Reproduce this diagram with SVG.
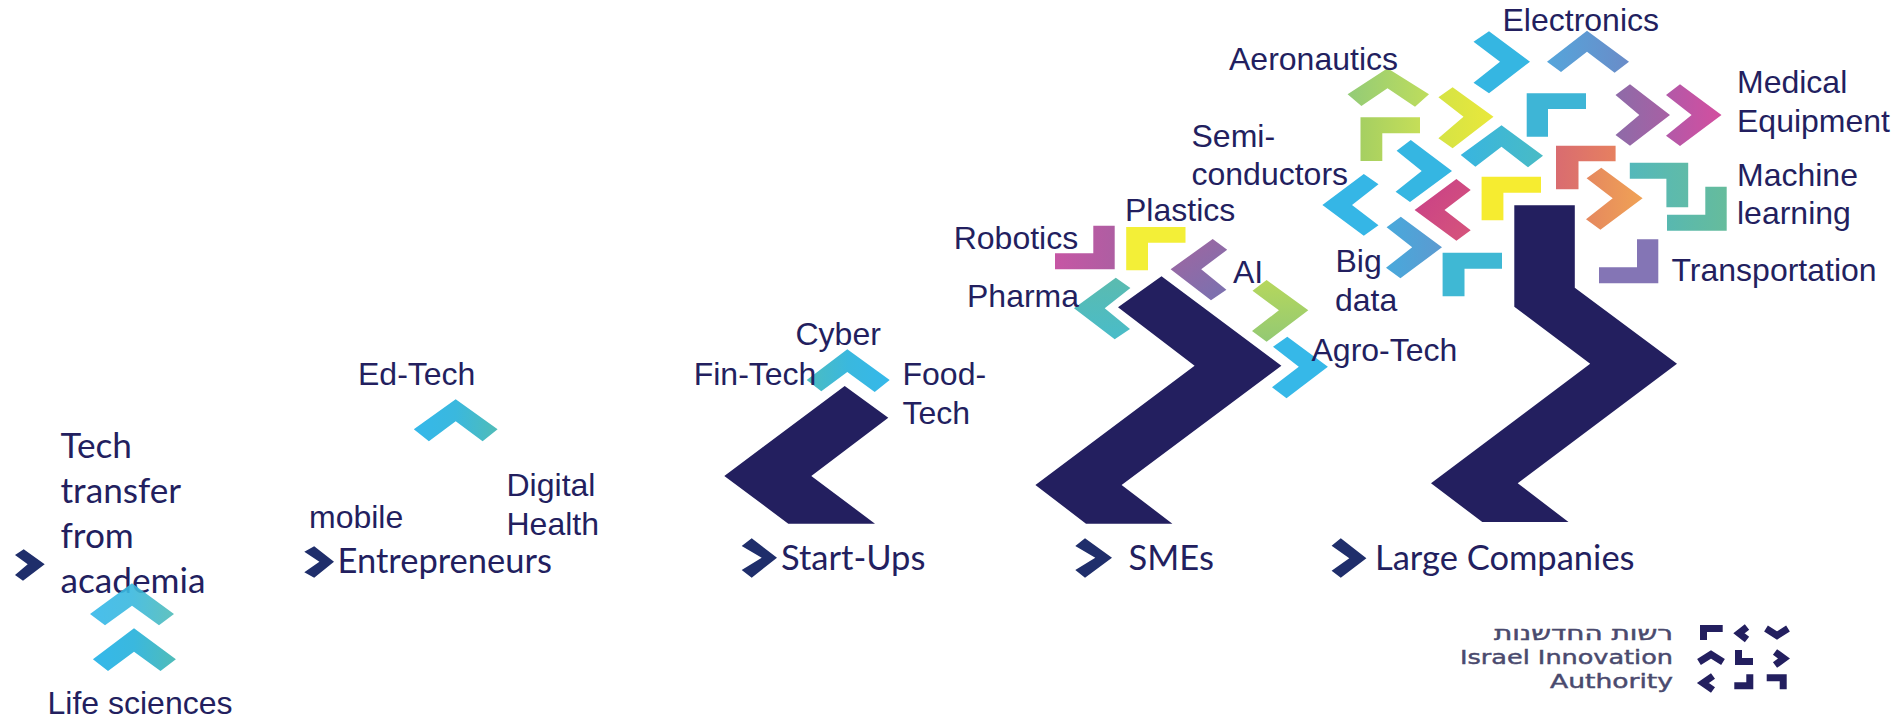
<svg xmlns="http://www.w3.org/2000/svg" width="1895" height="717" viewBox="0 0 1895 717">
<style>
text{fill:#231F5F;font-family:"Liberation Sans",Arial,sans-serif;font-size:32px}
.c{font-family:Lato,"Open Sans",sans-serif;font-size:34.5px}
.a{font-size:35.2px}
.navy{fill:#231F5F}
.mini{fill:#1F2E6B}
.lg{font-family:"DejaVu Sans",sans-serif;font-size:20px;fill:#4A4A6E;stroke:#4A4A6E;stroke-width:.45}
.ic{fill:none;stroke:#231F5F;stroke-width:7}
</style>
<defs>
<linearGradient id="upg"><stop offset="0" stop-color="#35B8EA"/><stop offset=".5" stop-color="#3AB8DE"/><stop offset="1" stop-color="#50BCB8"/></linearGradient>
<linearGradient id="cyb"><stop offset="0" stop-color="#4CBCC0"/><stop offset=".5" stop-color="#3AB8DE"/><stop offset="1" stop-color="#35B8EA"/></linearGradient>
<linearGradient id="g2"><stop offset="0" stop-color="#55A5DB"/><stop offset="1" stop-color="#6A8CC8"/></linearGradient>
<linearGradient id="g3"><stop offset="0" stop-color="#93CB77"/><stop offset="1" stop-color="#BEDD5C"/></linearGradient>
<linearGradient id="g4"><stop offset="0" stop-color="#D5E345"/><stop offset="1" stop-color="#E9E83B"/></linearGradient>
<linearGradient id="g6"><stop offset="0" stop-color="#8E6BA8"/><stop offset="1" stop-color="#A860A4"/></linearGradient>
<linearGradient id="g7"><stop offset="0" stop-color="#B259A8"/><stop offset="1" stop-color="#D34F9F"/></linearGradient>
<linearGradient id="g8"><stop offset="0" stop-color="#A5CF62"/><stop offset="1" stop-color="#C5DE58"/></linearGradient>
<linearGradient id="g10"><stop offset="0" stop-color="#38B5E0"/><stop offset="1" stop-color="#49BBC5"/></linearGradient>
<linearGradient id="g11"><stop offset="0" stop-color="#D96C70"/><stop offset="1" stop-color="#E68060"/></linearGradient>
<linearGradient id="g12"><stop offset="0" stop-color="#E5885F"/><stop offset="1" stop-color="#F0A255"/></linearGradient>
<linearGradient id="g13"><stop offset="0" stop-color="#53B8BA"/><stop offset="1" stop-color="#60BBA8"/></linearGradient>
<linearGradient id="g14"><stop offset="0" stop-color="#58B8B0"/><stop offset="1" stop-color="#66BC9C"/></linearGradient>
<linearGradient id="g16" x1="0" y1="0" x2="1" y2="1"><stop offset="0" stop-color="#C83F88"/><stop offset="1" stop-color="#D6557B"/></linearGradient>
<linearGradient id="g18"><stop offset="0" stop-color="#48A9DC"/><stop offset="1" stop-color="#5C9AD0"/></linearGradient>
<linearGradient id="grb"><stop offset="0" stop-color="#C656A4"/><stop offset="1" stop-color="#AE5EA2"/></linearGradient>
<linearGradient id="gpu" x1="0" y1="0" x2="0.6" y2="1"><stop offset="0" stop-color="#A2659F"/><stop offset="1" stop-color="#7E70AE"/></linearGradient>
<linearGradient id="gph" x1="0" y1="0" x2="0" y2="1"><stop offset="0" stop-color="#5BBBAF"/><stop offset="1" stop-color="#49BCC9"/></linearGradient>
<linearGradient id="gai" x1="0" y1="0" x2="0" y2="1"><stop offset="0" stop-color="#B6D75C"/><stop offset="1" stop-color="#93C974"/></linearGradient>
</defs>

<g id="stage-academia">
<text class="c a" x="60.5" y="457.5">Tech</text>
<text class="c a" x="60.5" y="502.8">transfer</text>
<text class="c a" x="60.5" y="547.8">from</text>
<text class="c a" x="60.5" y="592.8">academia</text>
<polygon id="ch-academia-1" fill="url(#upg)" fill-opacity=".9" points="132,583.3 174,614 159,625.3 132,605.7 105,625.3 90,614"/>
<polygon id="ch-academia-2" fill="url(#upg)" points="134,628.3 175.9,659.3 160.5,671 134,651.7 108,671 92.9,659.3"/>
<polygon class="mini" points="23.7,549.3 44.7,564.3 23,580.7 15,575 27.7,564.3 15,555"/>
<text x="47.5" y="713.5">Life sciences</text>
</g>

<g id="stage-entrepreneurs">
<polygon fill="url(#upg)" points="455.7,399.3 497.6,429.3 482.6,441.3 455.7,421.3 428.9,441.3 413.8,429.3"/>
<polygon class="mini" points="314.2,546.3 334,561.7 314.2,577.7 304.3,572.3 319.4,561.7 304.3,551.7"/>
<text x="358" y="384.5">Ed-Tech</text>
<text x="506.5" y="495.5">Digital</text>
<text x="506.5" y="534.5">Health</text>
<text x="309" y="527.5">mobile</text>
<text class="c" x="337.5" y="573.3">Entrepreneurs</text>
</g>

<g id="stage-startups">
<polygon class="navy" points="844.7,386 888.3,417.7 811.3,476 875,523.7 788.3,523.7 724.3,476"/>
<polygon fill="url(#cyb)" points="847.3,349.3 889.7,380 874.7,392 847.3,372 821.3,391.3 806.7,380"/>
<polygon class="mini" points="751.7,538.3 777,557.7 751.7,577.7 741.7,570 761.7,557.7 741.7,546"/>
<text x="795.5" y="344.8">Cyber</text>
<text x="693.7" y="384.8">Fin-Tech</text>
<text x="902.5" y="384.8">Food-</text>
<text x="902.5" y="423.8">Tech</text>
<text class="c" x="781" y="570">Start-Ups</text>
</g>

<g id="stage-smes">
<polygon class="navy" points="1161.5,276.3 1281.4,365.7 1121.6,485 1172.4,523.7 1086,523.7 1035.4,485 1194.6,365.7 1118,307.3"/>
<polygon fill="url(#grb)" points="1093.3,225.7 1114.7,225.7 1114.7,269.3 1055,269.3 1055,253.3 1093.3,253.3"/>
<polygon fill="#F3EF37" points="1126.2,227 1185.5,227 1185.5,242.7 1148,242.7 1148,270.3 1126.2,270.3"/>
<polygon fill="url(#gpu)" points="1170.6,269.3 1212.7,239 1227.2,249.7 1201.2,269.3 1226.4,289.7 1211,300.3"/>
<polygon fill="url(#gph)" points="1074,308.3 1115.8,277.7 1130.4,288 1104.7,308.3 1130,329 1114.7,339.3"/>
<polygon fill="url(#gai)" points="1308.3,310.3 1266.6,280 1252.5,290.7 1278.9,310.3 1252,331 1266.6,341.7"/>
<polygon fill="#36B8E8" points="1327.9,366.7 1287.3,336.7 1273,346.7 1298.8,366.7 1272,387.3 1286.5,398.3"/>
<polygon class="mini" points="1085,538.3 1112,557.7 1085,577.7 1075.3,570 1095.3,557.7 1075.3,546"/>
<text x="1125" y="221">Plastics</text>
<text x="953.7" y="248.8">Robotics</text>
<text x="967" y="306.5">Pharma</text>
<text x="1233" y="283">AI</text>
<text x="1311.5" y="361">Agro-Tech</text>
<text class="c" x="1128.5" y="570">SMEs</text>
</g>

<g id="stage-large">
<polygon class="navy" points="1514.3,205.3 1574.8,205.3 1574.8,287.7 1677,363.7 1517.7,483.3 1568.5,522 1482.3,522 1431,483.3 1590.2,363.7 1514.3,306.7"/>
<polygon fill="#35B6E2" points="1530,61.7 1489,31.3 1473.5,41.7 1500,61.7 1473.5,82.7 1489,93.3"/>
<polygon fill="url(#g2)" points="1587,30.7 1629,61.7 1614.6,72.7 1587,51.7 1561,72 1547,61.7"/>
<polygon fill="url(#g3)" points="1387.5,68.3 1429,94.3 1415,106.7 1387.5,88.3 1361.4,106 1347.6,94.3"/>
<polygon fill="url(#g4)" points="1493.5,116.7 1452.6,87.3 1438.4,97.3 1463.5,116.7 1438.4,138.3 1452.6,148.3"/>
<polygon fill="#3EB5D6" points="1526.7,93.3 1586,93.3 1586,109 1548,109 1548,136.7 1526.7,136.7"/>
<polygon fill="url(#g6)" points="1670,115 1630,84.3 1615.5,95 1639.3,115 1615.5,135 1630,145.7"/>
<polygon fill="url(#g7)" points="1721.5,115 1680,84.3 1666,95 1691.6,115 1666,135.7 1680,146"/>
<polygon fill="url(#g8)" points="1360.5,117.3 1420,117.3 1420,133.3 1382.3,133.3 1382.3,161 1360.5,161"/>
<polygon fill="#35B6E2" points="1452,171 1410.8,140 1396.6,150.7 1421.7,171 1395.6,191.7 1410,202"/>
<polygon fill="url(#g10)" points="1501.5,125.3 1543,155.7 1528,167.3 1501.5,146.7 1475.4,166.7 1460.7,155"/>
<polygon fill="url(#g11)" points="1556,145.7 1615.6,145.7 1615.6,161.3 1578.5,161.3 1578.5,189.3 1556,189.3"/>
<polygon fill="url(#g12)" points="1642.6,198.3 1601.3,167.7 1586.6,178.3 1612.7,198.3 1586,219.3 1600.4,229.7"/>
<polygon fill="url(#g13)" points="1629.8,162.7 1688.2,162.7 1688.2,207.3 1666.4,207.3 1666.4,178.7 1629.8,178.7"/>
<polygon fill="url(#g14)" points="1705.3,186.7 1726.7,186.7 1726.7,230.7 1667,230.7 1667,214.7 1705.3,214.7"/>
<polygon fill="#F6EC30" points="1481.6,176.7 1541,176.7 1541,192.7 1503.4,192.7 1503.4,220.3 1481.6,220.3"/>
<polygon fill="url(#g16)" points="1414.6,210 1456.4,179 1470.7,190 1444.5,210 1470.7,230.3 1456.4,240.7"/>
<polygon fill="#35B6E6" points="1322.4,205 1363.8,174 1378.5,184.3 1352,205 1378.5,225.3 1363.8,235.7"/>
<polygon fill="url(#g18)" points="1442,247.3 1400.8,216.7 1386.6,227.3 1412.2,247.3 1386,267.7 1400.4,278.3"/>
<polygon fill="#3FB8D4" points="1442.6,252.7 1502,252.7 1502,268.7 1464.5,268.7 1464.5,296.3 1442.6,296.3"/>
<polygon fill="#8475B5" points="1637,239.3 1658.3,239.3 1658.3,283.3 1599,283.3 1599,267.3 1637,267.3"/>
<polygon class="mini" points="1340.8,538.3 1366.4,558.3 1340.8,577.7 1331.6,570.7 1349.3,558.3 1331.6,545.7"/>
<text x="1502.5" y="30.5">Electronics</text>
<text x="1229" y="69.8">Aeronautics</text>
<text x="1191.5" y="146.5">Semi-</text>
<text x="1191.5" y="184.8">conductors</text>
<text x="1737" y="92.8">Medical</text>
<text x="1737" y="131.5">Equipment</text>
<text x="1737" y="185.5">Machine</text>
<text x="1737" y="223.8">learning</text>
<text x="1671.5" y="280.5">Transportation</text>
<text x="1335.5" y="272">Big</text>
<text x="1335" y="310.5">data</text>
<text class="c" x="1375" y="570">Large Companies</text>
</g>

<g id="logo">
<text class="lg" x="1494" y="639.5" textLength="179" lengthAdjust="spacingAndGlyphs">רשות החדשנות</text>
<text class="lg" x="1460" y="663.5" textLength="213" lengthAdjust="spacingAndGlyphs">Israel Innovation</text>
<text class="lg" x="1550" y="688" textLength="123" lengthAdjust="spacingAndGlyphs">Authority</text>
<polyline class="ic" points="1703.5,640 1703.5,628.5 1722.7,628.5"/>
<polyline class="ic" points="1747,627 1739,633.3 1747,639.5"/>
<polyline class="ic" points="1766,628.5 1777,635.5 1788,628.5"/>
<polyline class="ic" points="1699,662 1711,654.5 1723,662"/>
<polyline class="ic" points="1738.5,650 1738.5,661.5 1753,661.5"/>
<polyline class="ic" points="1775,652 1784,658.5 1775,665"/>
<polyline class="ic" points="1713,676 1703,683 1713,690"/>
<polyline class="ic" points="1734.3,685.8 1749.8,685.8 1749.8,674.3"/>
<polyline class="ic" points="1766.7,677.8 1783.2,677.8 1783.2,689.3"/>
</g>
</svg>
